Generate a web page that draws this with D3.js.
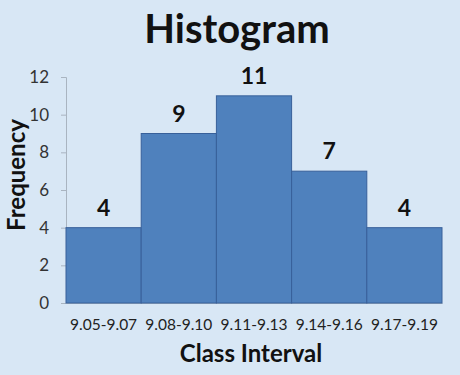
<!DOCTYPE html>
<html>
<head>
<meta charset="utf-8">
<script src="https://cdn.jsdelivr.net/npm/d3@7"></script>
<style>
  body { margin: 0; background: #d8e7f5; }
  svg { display: block; font-family: Lato, "Open Sans", sans-serif; }
</style>
</head>
<body>
<script>
const width = 460;
const height = 375;

// Chart data.
const classes = ['9.05-9.07', '9.08-9.10', '9.11-9.13', '9.14-9.16', '9.17-9.19'];
const counts = [4, 9, 11, 7, 4];
const yTicks = [0, 2, 4, 6, 8, 10, 12];

let margin = { top: 77, right: 18, bottom: 72, left: 66 };

let svg = d3
  .select('body')
  .append('svg')
  .attr('width', width)
  .attr('height', height);

svg.append('rect')
  .attr('width', width)
  .attr('height', height)
  .attr('fill', '#d8e7f5');

let xScale = d3
  .scaleBand()
  .domain(classes)
  .range([margin.left, width - margin.right])
  .padding(0);

let yScale = d3
  .scaleLinear()
  .domain([0, 12])
  .range([height - margin.bottom, margin.top]);

// Left axis.
let leftAxis = d3.axisLeft(yScale).tickValues(yTicks).tickSize(5).tickPadding(12);
let leftContainer = svg
  .append('g')
  .attr('transform', `translate(${margin.left}, 0)`)
  .call(leftAxis);
leftContainer.selectAll('path, line').attr('stroke', '#a9b4c0');
leftContainer.selectAll('text')
  .attr('font-size', 17)
  .attr('fill', '#333')
  .attr('font-family', 'Lato, "Open Sans", sans-serif');

// Bottom axis.
let bottomAxis = d3.axisBottom(xScale).tickSize(0).tickPadding(16);
let bottomContainer = svg
  .append('g')
  .attr('transform', `translate(0, ${height - margin.bottom})`)
  .call(bottomAxis);
bottomContainer.select('path').attr('stroke', '#a9b4c0');
bottomContainer.selectAll('text')
  .attr('font-size', 15.5)
  .attr('fill', '#222')
  .attr('font-family', 'Lato, "Open Sans", sans-serif');

let data = classes.map((c, i) => ({ cls: c, count: counts[i] }));

svg
  .selectAll('rect.bar')
  .data(data)
  .join('rect')
  .attr('class', 'bar')
  .attr('x', (d) => xScale(d.cls))
  .attr('y', (d) => yScale(d.count))
  .attr('width', xScale.bandwidth())
  .attr('height', (d) => yScale(0) - yScale(d.count))
  .attr('fill', '#4f81bd')
  .attr('stroke', '#38609a')
  .attr('stroke-width', 1);

svg
  .selectAll('text.val')
  .data(data)
  .join('text')
  .attr('class', 'val')
  .attr('x', (d) => xScale(d.cls) + xScale.bandwidth() / 2)
  .attr('y', (d) => yScale(d.count) - 12)
  .attr('text-anchor', 'middle')
  .attr('font-size', 23)
  .attr('font-weight', 'bold')
  .attr('fill', '#111')
  .text((d) => d.count);

// Title and axis labels.
svg.append('text')
  .attr('x', 237)
  .attr('y', 43)
  .attr('text-anchor', 'middle')
  .attr('font-size', 40)
  .attr('font-weight', 'bold')
  .attr('fill', '#111')
  .text('Histogram');

svg.append('text')
  .attr('transform', 'translate(25, 175) rotate(-90)')
  .attr('text-anchor', 'middle')
  .attr('font-size', 24)
  .attr('font-weight', 'bold')
  .attr('fill', '#111')
  .text('Frequency');

svg.append('text')
  .attr('x', 251)
  .attr('y', 362)
  .attr('text-anchor', 'middle')
  .attr('font-size', 24)
  .attr('font-weight', 'bold')
  .attr('fill', '#111')
  .text('Class Interval');
</script>
</body>
</html>
